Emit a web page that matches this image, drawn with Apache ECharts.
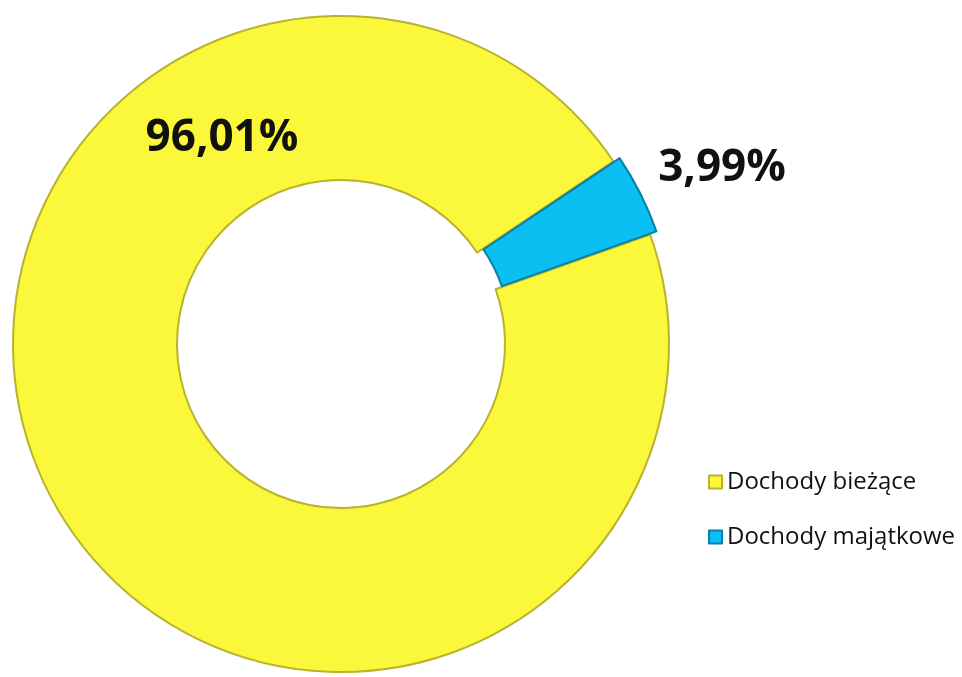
<!DOCTYPE html>
<html>
<head>
<meta charset="utf-8">
<script src="https://cdn.jsdelivr.net/npm/echarts@6/dist/echarts.min.js"></script>
<style>
  html, body { margin: 0; padding: 0; background: #fff; }
  #chart { width: 962px; height: 677px; }
</style>
</head>
<body>
<div id="chart"></div>
<script>
// 数据
const categories = ["Dochody bieżące", "Dochody majątkowe"];
const shares = [96.01, 3.99];
const colors = ["#fbf73a", "#0bbff2"];
const borderColors = ["#b8b32c", "#0a7fa6"];

// 标签位置（像素）
const labelPos = [
  [222, 138],
  [722, 168],
];

const fmt = (v) => v.toFixed(2).replace(".", ",") + "%";

const chart = echarts.init(document.getElementById("chart"));

const option = {
  animation: false,
  legend: {
    orient: "vertical",
    left: 703,
    top: 465,
    itemWidth: 13,
    itemHeight: 13,
    itemGap: 31,
    icon: "rect",
    data: categories,
    textStyle: {
      fontFamily: "Open Sans",
      fontSize: 24,
      color: "#111",
    },
  },
  // 百分比标签
  graphic: shares.map((v, i) => ({
    type: "text",
    x: labelPos[i][0],
    y: labelPos[i][1],
    z: 100,
    style: {
      text: fmt(v),
      fontFamily: "Open Sans",
      fontWeight: "bold",
      fontSize: 44,
      fill: "#111",
      align: "center",
      verticalAlign: "middle",
    },
  })),
  series: [
    {
      type: "pie",
      center: [341, 344],
      radius: [164, 328],
      startAngle: 19.5,
      clockwise: true,
      selectedMode: "single",
      selectedOffset: 7,
      label: { show: false },
      labelLine: { show: false },
      emphasis: { disabled: true },
      data: categories.map((name, i) => ({
        name: name,
        value: shares[i],
        selected: i === 1,
        itemStyle: {
          color: colors[i],
          borderColor: borderColors[i],
          borderWidth: 2,
        },
      })),
    },
  ],
};

chart.setOption(option);
</script>
</body>
</html>
